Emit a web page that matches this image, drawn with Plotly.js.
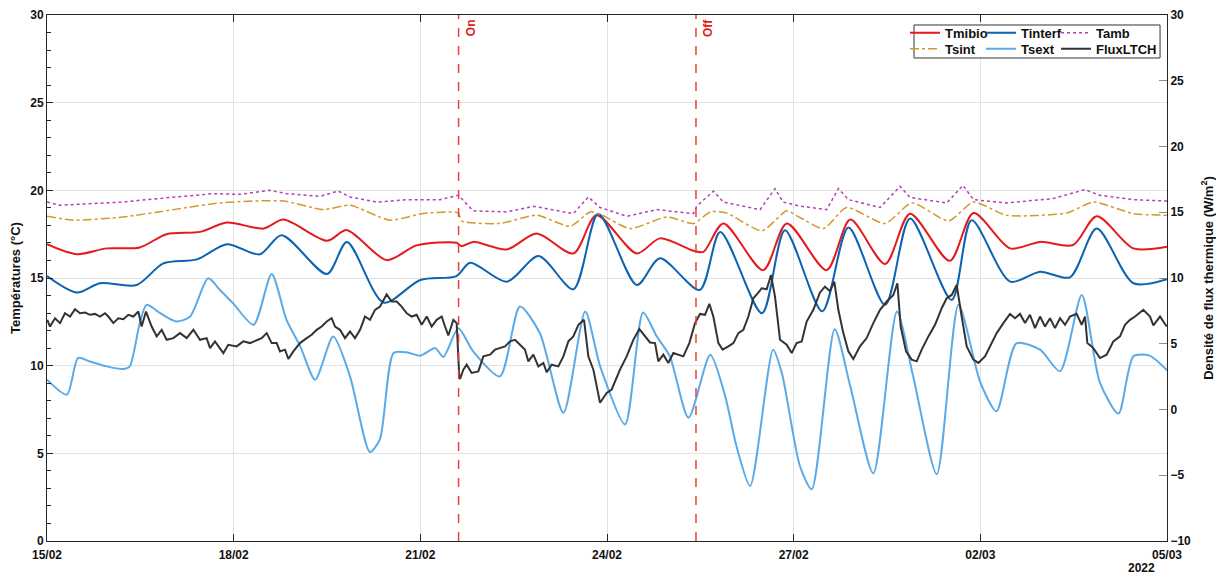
<!DOCTYPE html>
<html>
<head>
<meta charset="utf-8">
<script src="https://cdn.plot.ly/plotly-3.0.1.min.js"></script>
<style>html,body{margin:0;padding:0;background:#fff;}#chart{width:1216px;height:576px;}</style>
</head>
<body>
<div id="chart"></div>
<script>
// Time is given in days after 15/02/2022 00:00
const startDate = '2022-02-15';
const endDate = '2022-03-05';
const onDay = 6.615;
const offDay = 10.43;

const tambDay = [0.00,0.21,0.69,1.22,1.60,2.14,2.67,3.10,3.58,3.85,4.39,4.68,4.87,5.30,5.78,6.32,6.61,6.85,7.39,7.82,8.46,8.70,8.89,9.32,9.80,10.39,10.44,10.71,10.87,11.46,11.70,11.83,12.10,12.53,12.72,12.88,13.39,13.71,13.87,14.46,14.72,14.89,15.42,16.17,16.68,16.92,17.46,18.00];
const tambVal = [19.33,19.15,19.24,19.33,19.47,19.66,19.81,19.77,20.00,19.81,19.66,19.96,19.62,19.33,19.47,19.47,19.72,18.83,18.77,19.09,18.67,19.62,19.02,18.52,18.90,18.67,19.09,19.96,19.33,18.90,20.10,19.33,19.10,18.90,20.10,19.47,19.02,20.23,19.59,19.28,20.28,19.47,19.28,19.53,20.04,19.72,19.47,19.39];

const tsintDay = [0.00,0.42,1.22,2.03,2.83,3.80,4.44,4.87,5.51,6.05,6.61,6.66,7.28,7.87,8.41,8.73,8.89,9.37,9.96,10.39,10.66,10.92,11.49,11.89,12.10,12.48,12.85,13.47,13.90,14.49,14.89,15.42,16.39,16.82,17.46,18.00];
const tsintVal = [18.52,18.30,18.48,18.90,19.30,19.39,18.90,19.15,18.30,18.68,18.71,18.26,18.11,18.58,17.95,18.77,18.64,17.82,18.48,18.11,18.77,18.71,17.69,18.83,18.45,17.82,19.02,18.11,19.28,18.26,19.33,18.58,18.71,19.33,18.67,18.58];

const tmibioDay = [0.00,0.48,0.96,1.49,1.92,2.46,2.89,3.48,3.80,4.50,4.82,5.46,5.94,6.58,6.66,6.85,7.39,7.87,8.46,8.83,9.48,9.85,10.39,10.55,10.87,11.51,11.89,12.53,12.91,13.47,13.87,14.51,14.89,15.48,15.96,16.49,16.87,17.46,18.00];
const tmibioVal = [16.93,16.36,16.69,16.74,17.50,17.63,18.16,17.82,18.33,17.12,17.73,16.02,16.86,17.01,16.82,17.06,16.63,17.54,16.40,18.58,16.40,17.26,16.55,16.49,18.11,15.45,18.11,15.45,18.33,15.80,18.67,15.98,18.71,16.69,17.06,16.88,18.52,16.69,16.78];

const tinterfDay = [0.00,0.48,0.85,1.44,1.87,2.41,2.89,3.42,3.77,4.50,4.82,5.41,6.00,6.58,6.80,7.39,7.90,8.46,8.86,9.48,9.85,10.49,10.82,11.49,11.86,12.46,12.88,13.47,13.87,14.54,14.86,15.48,15.96,16.44,16.87,17.46,18.00];
const tinterfVal = [15.11,14.17,14.70,14.60,15.83,16.06,16.93,16.35,17.44,15.23,17.06,13.60,14.89,15.11,15.87,14.79,16.25,14.36,18.67,14.60,16.12,14.32,17.63,12.99,17.73,13.10,17.88,13.47,18.39,13.75,18.30,14.79,15.36,15.04,17.82,14.70,14.93];

const tsextDay = [0.00,0.32,0.50,0.69,0.96,1.23,1.33,1.49,1.60,1.82,2.08,2.30,2.59,2.78,2.99,3.32,3.61,3.85,4.07,4.31,4.60,4.87,5.19,5.35,5.57,5.78,6.00,6.24,6.37,6.61,6.85,7.28,7.60,7.92,8.30,8.65,8.89,9.29,9.58,9.80,10.01,10.31,10.66,10.90,11.08,11.30,11.67,11.81,12.10,12.29,12.66,12.91,13.28,13.66,13.92,14.30,14.65,15.00,15.26,15.58,15.96,16.28,16.63,16.92,17.22,17.46,17.72,18.00];
const tsextVal = [9.20,8.35,10.44,10.24,9.96,9.81,9.96,12.42,13.47,12.99,12.52,12.80,14.98,14.32,13.56,12.33,15.23,12.61,11.10,9.20,11.66,9.39,5.07,5.80,10.72,10.76,10.57,11.00,10.49,12.14,10.81,9.39,13.37,11.86,7.31,13.09,9.96,6.65,13.03,11.66,10.53,7.03,10.62,8.25,5.42,3.14,10.91,9.58,4.28,2.95,12.08,8.82,3.86,13.09,9.39,3.81,13.47,9.05,7.40,11.27,10.91,9.68,14.03,9.05,7.27,10.53,10.57,9.73];

const fluxDay = [0.005,0.048,0.129,0.209,0.289,0.370,0.450,0.530,0.611,0.691,0.771,0.852,0.932,0.986,1.066,1.146,1.227,1.307,1.388,1.468,1.521,1.591,1.682,1.763,1.843,1.923,2.030,2.138,2.245,2.352,2.459,2.566,2.620,2.700,2.834,2.914,3.048,3.155,3.263,3.370,3.450,3.531,3.611,3.691,3.745,3.825,3.879,3.959,4.066,4.173,4.254,4.334,4.414,4.495,4.575,4.629,4.709,4.789,4.870,4.950,5.031,5.111,5.191,5.272,5.352,5.459,5.539,5.620,5.700,5.781,5.861,5.941,6.022,6.102,6.182,6.263,6.343,6.397,6.450,6.531,6.584,6.627,
6.638,6.691,6.745,6.825,6.932,7.013,7.120,7.200,7.281,7.361,7.441,7.522,7.602,7.682,7.736,7.816,7.897,7.977,8.031,8.111,8.218,8.299,8.379,8.459,8.540,8.631,8.700,8.781,8.888,8.995,9.075,9.209,9.316,9.423,9.520,9.611,9.691,9.772,9.825,9.906,9.986,10.066,10.147,10.227,10.323,10.415,10.495,10.575,10.645,10.709,10.790,10.859,10.950,11.031,11.111,11.191,11.272,11.352,11.432,11.486,11.566,11.636,11.700,11.781,11.888,11.968,12.048,12.129,12.209,12.316,12.423,
12.503,12.584,12.653,12.718,12.798,12.879,12.959,13.066,13.173,13.280,13.388,13.495,13.602,13.667,13.720,13.806,13.897,13.977,14.058,14.165,14.272,14.379,14.459,14.540,14.620,14.700,14.781,14.888,14.968,15.075,15.182,15.263,15.370,15.477,15.557,15.638,15.718,15.798,15.879,15.959,16.040,16.120,16.200,16.281,16.361,16.441,16.548,16.629,16.682,16.720,16.816,16.923,17.031,17.138,17.245,17.325,17.406,17.486,17.620,17.727,17.781,17.888,17.995];
const fluxVal = [6.82,6.31,6.94,6.57,7.32,7.07,7.63,7.32,7.37,7.20,7.27,7.07,7.32,7.07,6.57,6.94,6.87,7.20,7.07,7.45,6.31,7.45,6.31,5.56,6.06,5.30,5.43,5.81,5.43,6.06,5.30,5.43,4.67,5.18,4.29,4.92,4.80,5.18,5.05,5.30,5.43,5.81,5.05,5.05,4.42,4.55,3.84,4.42,5.05,5.43,5.68,6.06,6.31,6.69,6.94,6.31,6.06,5.43,5.93,5.43,6.06,7.07,6.82,7.58,7.83,8.76,8.21,8.21,7.83,7.32,7.07,7.20,6.44,7.07,6.31,6.82,7.07,6.31,5.63,6.82,6.57,2.40,
2.32,3.03,3.41,2.78,2.90,4.04,4.17,4.55,4.67,4.80,5.18,5.30,4.92,4.55,3.66,4.17,3.28,3.54,2.83,3.41,3.28,4.04,5.18,5.56,6.44,6.82,4.04,3.03,0.51,1.26,1.52,3.03,4.04,5.30,6.11,5.56,5.10,5.05,3.66,4.17,3.54,4.29,4.17,4.04,5.05,6.57,7.27,7.20,8.03,7.07,5.05,4.55,4.80,5.05,5.81,6.06,7.07,8.46,8.89,9.22,9.14,10.23,8.59,5.30,4.92,4.29,5.05,5.18,6.69,7.58,8.90,
9.34,9.00,9.72,7.58,5.81,4.42,3.84,4.80,5.43,6.57,7.58,8.21,8.71,9.60,6.31,4.42,3.79,3.66,4.55,5.56,6.44,7.70,8.46,8.71,9.47,7.07,4.80,3.79,3.54,4.04,5.05,5.81,6.57,7.27,6.94,7.27,6.57,7.20,6.19,7.07,6.31,6.94,6.19,6.94,6.44,7.07,7.27,6.44,7.07,5.05,4.67,3.91,4.17,5.18,5.56,6.44,6.82,7.07,7.58,7.07,6.39,7.07,6.31];

const t0 = Date.UTC(2022, 1, 15);
function toDate(d) {
  return new Date(t0 + d * 86400000).toISOString().replace('T', ' ').slice(0, 19);
}
function dates(arr) { return arr.map(toDate); }

const FONT = 'Liberation Sans, Arial, sans-serif';

const traces = [
  {name:'Tmibio', x:dates(tmibioDay), y:tmibioVal, type:'scatter', mode:'lines',
   line:{color:'#e41a1c', width:2, shape:'spline', smoothing:0.8}, legend:'legend'},
  {name:'Tinterf', x:dates(tinterfDay), y:tinterfVal, type:'scatter', mode:'lines',
   line:{color:'#0b63b3', width:2, shape:'spline', smoothing:0.8}, legend:'legend2'},
  {name:'Tamb', x:dates(tambDay), y:tambVal, type:'scatter', mode:'lines',
   line:{color:'#b43fb8', width:1.5, dash:'dot'}, legend:'legend3'},
  {name:'Tsint', x:dates(tsintDay), y:tsintVal, type:'scatter', mode:'lines',
   line:{color:'#d4982c', width:1.5, dash:'dashdot', shape:'spline', smoothing:0.6}, legend:'legend4'},
  {name:'Tsext', x:dates(tsextDay), y:tsextVal, type:'scatter', mode:'lines',
   line:{color:'#5aaae8', width:2, shape:'spline', smoothing:0.7}, legend:'legend5'},
  {name:'FluxLTCH', x:dates(fluxDay), y:fluxVal, type:'scatter', mode:'lines', yaxis:'y2',
   line:{color:'#333333', width:2}, legend:'legend6'}
];

function leg(x, y) {
  return {
    orientation:'h', xanchor:'left', yanchor:'top', x:x, y:y,
    bgcolor:'rgba(0,0,0,0)', borderwidth:0, itemwidth:30,
    font:{family:FONT, size:13, color:'#111', weight:'bold'}
  };
}
const colX = [0.7661, 0.8339, 0.9009];
const rowY = [0.9947, 0.9643];

const layout = {
  width:1216, height:576,
  margin:{l:47, r:49, t:15, b:35, pad:0},
  paper_bgcolor:'#ffffff', plot_bgcolor:'#ffffff',
  font:{family:FONT, size:12, color:'#111'},
  showlegend:true,
  legend:leg(colX[0], rowY[0]),
  legend2:leg(colX[1], rowY[0]),
  legend3:leg(colX[2], rowY[0]),
  legend4:leg(colX[0], rowY[1]),
  legend5:leg(colX[1], rowY[1]),
  legend6:leg(colX[2], rowY[1]),
  xaxis:{
    type:'date', range:[startDate, endDate], tick0:startDate, dtick:3*86400000,
    tickformat:'%d/%m', ticks:'inside', ticklen:7, tickcolor:'#262626',
    showline:true, linecolor:'#262626', linewidth:1, mirror:'ticks',
    showgrid:true, gridcolor:'#e2e2e2', zeroline:false, ticklabelstandoff:3,
    tickfont:{family:FONT, size:12, color:'#111', weight:'bold'}
  },
  yaxis:{
    range:[0,30], dtick:5, tick0:0, ticks:'inside', ticklen:6, tickcolor:'#262626',
    minor:{dtick:1, ticks:'inside', ticklen:4, tickcolor:'#262626', showgrid:false},
    showline:true, linecolor:'#262626', linewidth:1, mirror:false,
    showgrid:true, gridcolor:'#e2e2e2', zeroline:false,
    tickfont:{family:FONT, size:12, color:'#111', weight:'bold'},
    title:{text:'Températures (°C)', font:{family:FONT, size:13, color:'#111', weight:'bold'}, standoff:6}
  },
  yaxis2:{
    overlaying:'y', side:'right', range:[-10,30], dtick:5, tick0:0,
    ticks:'inside', ticklen:8, tickcolor:'#8c8c8c',
    showline:true, linecolor:'#262626', linewidth:1,
    showgrid:false, zeroline:false,
    tickfont:{family:FONT, size:12, color:'#111', weight:'bold'},
    title:{text:'Densité de flux thermique (W/m<sup>2</sup>)', font:{family:FONT, size:13, color:'#111', weight:'bold'}, standoff:13}
  },
  shapes:[
    {type:'line', xref:'x', yref:'paper', x0:toDate(onDay), x1:toDate(onDay), y0:0, y1:1,
     line:{color:'#e5423c', width:1.5, dash:'dash'}},
    {type:'line', xref:'x', yref:'paper', x0:toDate(offDay), x1:toDate(offDay), y0:0, y1:1,
     line:{color:'#e5423c', width:1.5, dash:'dash'}},
    {type:'rect', xref:'paper', yref:'paper', x0:0.7741, x1:0.9938, y0:0.9183, y1:0.981,
     line:{color:'#333', width:1}, fillcolor:'#ffffff', layer:'above'}
  ],
  annotations:[
    {text:'On', xref:'x', yref:'paper', x:toDate(onDay), y:0.996, xanchor:'left', yanchor:'top',
     xshift:3, textangle:-90, showarrow:false, font:{family:FONT, size:12, color:'#e01b1b', weight:'bold'}},
    {text:'Off', xref:'x', yref:'paper', x:toDate(offDay), y:0.996, xanchor:'left', yanchor:'top',
     xshift:3, textangle:-90, showarrow:false, font:{family:FONT, size:12, color:'#e01b1b', weight:'bold'}},
    {text:'2022', xref:'paper', yref:'paper', x:0.9768, y:-0.052, xanchor:'center', yanchor:'middle',
     showarrow:false, font:{family:FONT, size:12, color:'#111', weight:'bold'}}
  ]
};

Plotly.newPlot('chart', traces, layout, {displayModeBar:false, staticPlot:true});
</script>
</body>
</html>
